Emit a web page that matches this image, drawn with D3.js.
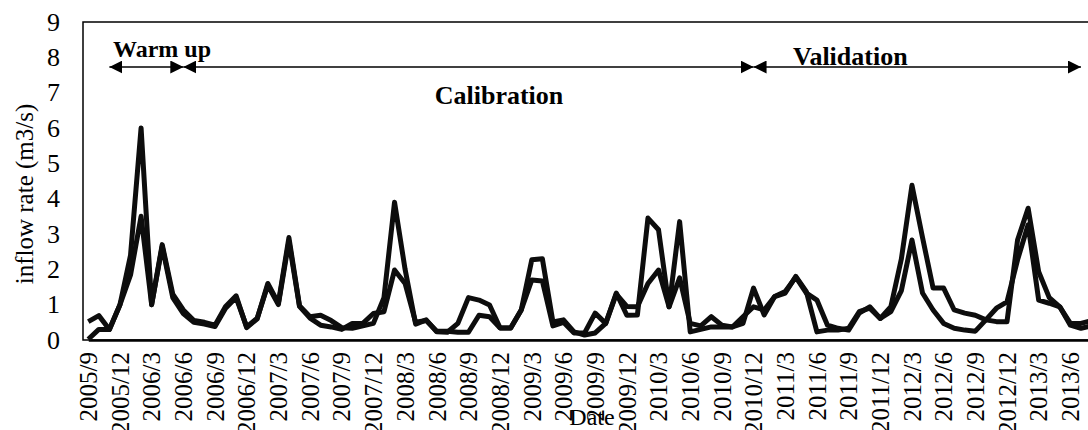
<!DOCTYPE html>
<html>
<head>
<meta charset="utf-8">
<script src="https://cdn.jsdelivr.net/npm/d3@7"></script>
<style>
    body { margin: 0; background: #fff; }
    text { font-family: 'Liberation Serif', 'Times New Roman', serif; }
</style>
</head>
<body>
<div id="chart"></div>
<script>

// monthly values, 2005/9 .. 2013/8
let months = [];
for (let y = 2005; y <= 2013; y ++) {
    for (let m = 1; m <= 12; m ++) {
        if ((y == 2005 && m < 9) || (y == 2013 && m > 8)) continue;
        months.push(y + '/' + m);
    }
}

let seriesA = [0.02, 0.3, 0.3, 1.0, 2.4, 6.0, 1.0, 2.7, 1.3, 0.85, 0.55, 0.5,
    0.42, 0.95, 1.25, 0.35, 0.6, 1.6, 1.04, 2.9, 0.97, 0.66, 0.7, 0.55,
    0.35, 0.33, 0.4, 0.47, 1.2, 3.9, 2.0, 0.45, 0.57, 0.23, 0.22, 0.47,
    1.2, 1.13, 0.99, 0.34, 0.34, 0.85, 2.27, 2.3, 0.51, 0.57, 0.23, 0.14,
    0.2, 0.47, 1.33, 0.7, 0.71, 3.45, 3.12, 0.94, 3.35, 0.23, 0.3, 0.37,
    0.37, 0.37, 0.47, 1.47, 0.71, 1.23, 1.33, 1.8, 1.37, 0.23, 0.28, 0.28,
    0.33, 0.8, 0.9, 0.61, 0.94, 2.3, 4.38, 2.9, 1.47, 1.47, 0.85, 0.76,
    0.7, 0.57, 0.52, 0.52, 2.83, 3.73, 1.93, 1.2, 0.94, 0.47, 0.47, 0.55];

let seriesB = [0.52, 0.69, 0.3, 1.0, 1.84, 3.5, 1.0, 2.65, 1.2, 0.75, 0.5, 0.45,
    0.38, 0.9, 1.2, 0.37, 0.62, 1.55, 1.0, 2.8, 0.95, 0.62, 0.42, 0.37,
    0.3, 0.47, 0.47, 0.75, 0.8, 1.98, 1.6, 0.5, 0.55, 0.25, 0.25, 0.22,
    0.22, 0.7, 0.66, 0.34, 0.34, 0.85, 1.7, 1.67, 0.4, 0.5, 0.2, 0.2,
    0.76, 0.47, 1.3, 0.95, 0.94, 1.6, 1.98, 0.94, 1.76, 0.47, 0.4, 0.66,
    0.42, 0.37, 0.66, 0.94, 0.85, 1.23, 1.37, 1.78, 1.33, 1.13, 0.42, 0.33,
    0.28, 0.76, 0.94, 0.61, 0.8, 1.4, 2.83, 1.33, 0.85, 0.47, 0.33, 0.28,
    0.25, 0.57, 0.9, 1.08, 2.27, 3.26, 1.13, 1.04, 0.94, 0.42, 0.33, 0.4];

let yTicks = [0, 1, 2, 3, 4, 5, 6, 7, 8, 9];

// periods: label, first month, last month
let periods = [
    {label: 'Warm up', from: '2005/11', to: '2006/6'},
    {label: 'Calibration', from: '2006/6', to: '2010/12'},
    {label: 'Validation', from: '2010/12', to: '2013/7'}
];

//----------------------------------------
// SVG setup
let width = 1088,
    height = 430;
let plotLeft = 83, plotTop = 22, plotBottom = 340;
let step = 10.56;
let plotRight = plotLeft + step * months.length;
let serif = "'Liberation Serif', 'Times New Roman', serif";

let svg = d3.select('#chart').append('svg')
    .attr('width', width)
    .attr('height', height);

let defs = svg.append('defs');
defs.append('marker')
    .attr('id', 'head')
    .attr('viewBox', '0 0 10 10')
    .attr('refX', 10).attr('refY', 5)
    .attr('markerWidth', 13).attr('markerHeight', 13)
    .attr('markerUnits', 'userSpaceOnUse')
    .attr('orient', 'auto-start-reverse')
    .append('path')
    .attr('d', 'M0,0 L10,5 L0,10 Z')
    .style('fill', '#000');

//----------------------------------------
// Scales
let x = d3.scalePoint()
    .domain(months)
    .range([plotLeft + step / 2, plotRight - step / 2]);

let y = d3.scaleLinear()
    .domain([0, 9])
    .range([plotBottom, plotTop]);

//----------------------------------------
// Frame
svg.append('rect')
    .attr('x', plotLeft).attr('y', plotTop)
    .attr('width', plotRight - plotLeft).attr('height', plotBottom - plotTop)
    .style('fill', 'none')
    .style('stroke', '#000')
    .style('stroke-width', 1.5);

//----------------------------------------
// Axes
let yAxis = svg.append('g')
    .attr('transform', 'translate(' + plotLeft + ',0)')
    .call(d3.axisLeft(y).tickValues(yTicks).tickSize(0).tickPadding(23));
yAxis.attr('font-family', null);
yAxis.select('.domain').remove();
yAxis.selectAll('text')
    .style('font-family', serif)
    .style('font-size', '26px')
    .style('fill', '#000');

let xAxis = svg.append('g')
    .attr('transform', 'translate(0,' + plotBottom + ')')
    .call(d3.axisBottom(x)
        .tickValues(months.filter(function(d, i) { return i % 3 == 0; }))
        .tickSize(0));
xAxis.attr('font-family', null);
xAxis.select('.domain')
    .style('stroke-width', 2.5);
xAxis.selectAll('text')
    .style('font-family', serif)
    .style('font-size', '25px')
    .style('fill', '#000')
    .style('text-anchor', 'end')
    .attr('transform', 'rotate(-90)')
    .attr('x', -12)
    .attr('y', 0)
    .attr('dy', '0.33em');

svg.append('text')
    .attr('transform', 'translate(33,' + 194 + ') rotate(-90)')
    .attr('text-anchor', 'middle')
    .style('font-size', '25px')
    .text('inflow rate (m3/s)');

svg.append('text')
    .attr('x', 592).attr('y', 425)
    .attr('text-anchor', 'middle')
    .style('font-size', '24px')
    .text('Date');

//----------------------------------------
// The lines
let line = d3.line()
    .x(function(d, i) { return x(months[i]); })
    .y(function(d) { return y(d); });

[seriesB, seriesA].forEach(function(s) {
    svg.append('path')
        .datum(s)
        .attr('d', line)
        .style('fill', 'none')
        .style('stroke', '#0d0d0d')
        .style('stroke-width', 5)
        .style('stroke-linejoin', 'round');
});

//----------------------------------------
// Period arrows
let arrowY = 67;
periods.forEach(function(p) {
    svg.append('line')
        .attr('x1', x(p.from)).attr('x2', x(p.to))
        .attr('y1', arrowY).attr('y2', arrowY)
        .style('stroke', '#000')
        .style('stroke-width', 1.5)
        .attr('marker-start', 'url(#head)')
        .attr('marker-end', 'url(#head)');
});

svg.append('text')
    .attr('x', 113).attr('y', 57)
    .style('font-size', '24px')
    .style('font-weight', 'bold')
    .text(periods[0].label);

svg.append('text')
    .attr('x', 499).attr('y', 104)
    .attr('text-anchor', 'middle')
    .style('font-size', '26px')
    .style('font-weight', 'bold')
    .text(periods[1].label);

svg.append('text')
    .attr('x', 793).attr('y', 65)
    .style('font-size', '26px')
    .style('font-weight', 'bold')
    .text(periods[2].label);

</script>
</body>
</html>
